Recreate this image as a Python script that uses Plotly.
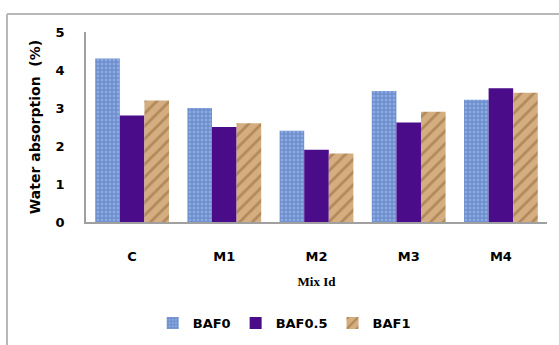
import plotly.graph_objects as go

categories = ["C", "M1", "M2", "M3", "M4"]
baf0 = [4.3, 3.0, 2.4, 3.45, 3.22]
baf05 = [2.8, 2.5, 1.9, 2.62, 3.52]
baf1 = [3.2, 2.6, 1.8, 2.9, 3.4]
y_ticks = [0, 1, 2, 3, 4, 5]

fig = go.Figure()
fig.add_trace(go.Bar(
    name="BAF0", x=categories, y=baf0,
    marker=dict(color="#8eaee6", line=dict(width=0),
                pattern=dict(shape="+", fgcolor="#3f5f9f", bgcolor="#8aaae4",
                             size=4, solidity=0.45)),
))
fig.add_trace(go.Bar(
    name="BAF0.5", x=categories, y=baf05,
    marker=dict(color="#4a0c88", line=dict(width=0)),
))
fig.add_trace(go.Bar(
    name="BAF1", x=categories, y=baf1,
    marker=dict(color="#d6b080", line=dict(width=0),
                pattern=dict(shape="/", fgcolor="#8e6234", bgcolor="#d4ae80",
                             size=9, solidity=0.3)),
))

tick_font = dict(family="DejaVu Sans", size=13, color="black", weight="bold")

fig.update_layout(
    width=559, height=345,
    margin=dict(l=86, r=12, t=32, b=123, autoexpand=False),
    paper_bgcolor="white", plot_bgcolor="white",
    barmode="group", bargap=0.2, bargroupgap=0,
    showlegend=True,
    legend=dict(orientation="h", x=0.43, xanchor="center",
                yref="container", y=(345 - 323) / 345, yanchor="middle",
                font=dict(family="DejaVu Sans", size=13, color="black", weight="bold"),
                itemwidth=30, traceorder="normal"),
    xaxis=dict(
        showline=True, linecolor="#a0a0a0", linewidth=1.5,
        showgrid=False, ticks="", ticklabelstandoff=22,
        tickfont=tick_font,
        title=dict(text="Mix Id", standoff=14,
                   font=dict(family="Liberation Serif, Times New Roman, serif", size=13,
                             color="black", weight="bold")),
    ),
    yaxis=dict(
        range=[0, 5], tickvals=y_ticks,
        showline=True, linecolor="#a0a0a0", linewidth=1.5,
        showgrid=False, ticks="", ticklabelstandoff=17,
        tickfont=tick_font,
        title=dict(text="Water absorption  (%)", standoff=12,
                   font=dict(family="DejaVu Sans", size=14, color="black", weight="bold")),
    ),
    shapes=[
        dict(type="line", xref="paper", yref="paper",
             x0=(7 - 86) / 461, x1=(560 - 86) / 461,
             y0=(345 - 123 - 14) / 190, y1=(345 - 123 - 14) / 190,
             line=dict(color="#b8b8b8", width=2)),
        dict(type="line", xref="paper", yref="paper",
             x0=(7 - 86) / 461, x1=(7 - 86) / 461,
             y0=(345 - 123 - 14) / 190, y1=(345 - 123 - 350) / 190,
             line=dict(color="#b8b8b8", width=2)),
    ],
)

fig.write_html("out.html")
